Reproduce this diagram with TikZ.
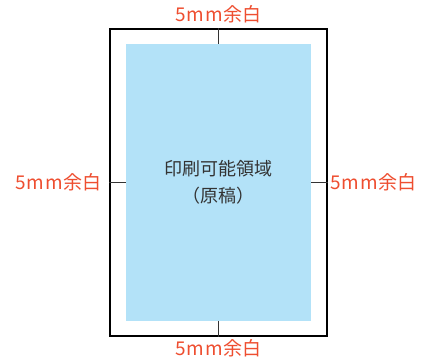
\documentclass[tikz,border=0pt]{standalone}
\usepackage{fontspec}
\setmainfont{Noto Sans CJK JP}
\usetikzlibrary{positioning}
\definecolor{marginRed}{RGB}{238,78,48}
\definecolor{areaBlue}{RGB}{179,226,248}
\definecolor{textGray}{RGB}{51,51,51}
\newcommand{\vMargin}{5\kern0.5pt m\kern1pt m余白}

\begin{document}
\begin{tikzpicture}[x=1pt, y=1pt,
		paper/.style={draw=black, line width=1.3pt, inner sep=0pt, minimum width=217pt, minimum height=307pt},
		printable/.style={fill=areaBlue, inner sep=0pt, minimum width=185pt, minimum height=277pt, text=textGray, font=\fontsize{18}{27}\selectfont, align=center},
		margin/.style={text=marginRed, inner sep=0pt, font=\fontsize{19}{19}\selectfont},
		tick/.style={draw=black!80, line width=1.3pt}]
	\useasboundingbox (0, 0) rectangle (424, 358);
	\node[paper] (frame) at (218.5, 175.5) {};
	\node[printable] (area) at (218.5, 175.5) {印刷可能領域\\（原稿）};

	\node[margin, above=5pt of frame.north] (mTop) {\vMargin};
	\node[margin, below=3pt of frame.south] (mBottom) {\vMargin};
	\node[margin, left=8pt of frame.west] (mLeft) {\vMargin};
	\node[margin, right=3pt of frame.east] (mRight) {\vMargin};

	\draw[tick] (frame.north) -- (area.north);
	\draw[tick] (frame.south) -- (area.south);
	\draw[tick] (frame.west) -- (area.west);
	\draw[tick] (frame.east) -- (area.east);
\end{tikzpicture}
\end{document}
